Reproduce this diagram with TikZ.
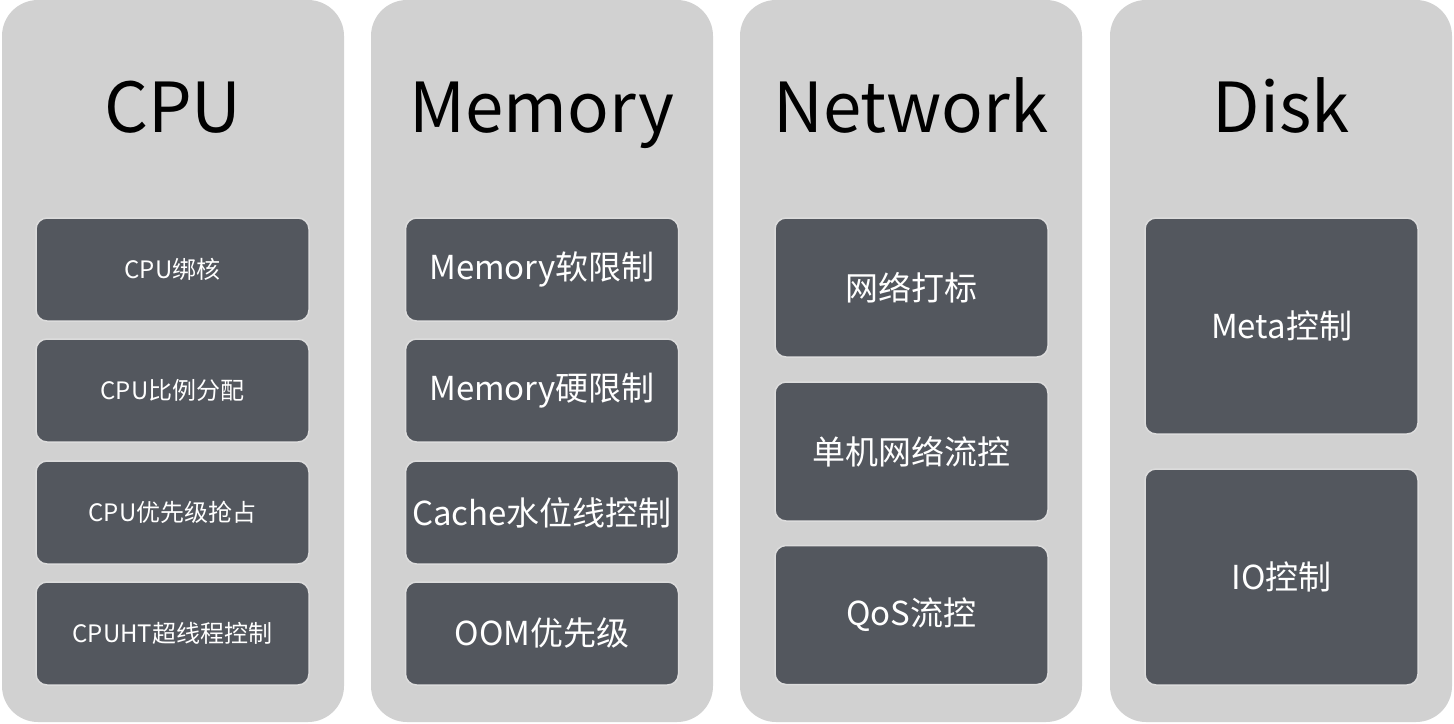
\documentclass[tikz,border=0pt]{standalone}
\usepackage{fontspec}
\setmainfont{Noto Sans CJK SC}
\usetikzlibrary{positioning}
\definecolor{colgray}{HTML}{D1D1D1}
\definecolor{boxgray}{HTML}{53575E}
\definecolor{boxline}{HTML}{DCDCDC}
\tikzset{
  column/.style={fill=colgray, draw=none, rounded corners=36pt, minimum width=342pt, minimum height=722pt, inner sep=0pt},
  heading/.style={anchor=base, text=black, font=\fontsize{69}{78}\selectfont},
  item/.style={fill=boxgray, draw=boxline, line width=1.5pt, rounded corners=11pt, text=white, minimum width=273pt, inner sep=0pt, align=center},
  smallitem/.style={item, minimum height=103pt, font=\fontsize{24}{28}\selectfont},
  bigitem/.style={item, font=\fontsize{33}{38}\selectfont}
}
\begin{document}
\begin{tikzpicture}[x=1pt, y=-1pt]
  \useasboundingbox (0,0) rectangle (1454,723);
  % four columns
  \node[column] (cpu) at (173,361) {};
  \node[column] (mem) at (542,361) {};
  \node[column] (net) at (911,361) {};
  \node[column] (disk) at (1281,361) {};
  % headings
  \node[heading] (cputitle) at (173,132) {CPU};
  \node[heading] (memtitle) at (542,132) {Memory};
  \node[heading] (nettitle) at (911,132) {Network};
  \node[heading] (disktitle) at (1281,132) {Disk};
  % CPU
  \node[smallitem] (cpua) at (172.5,269.5) {CPU绑核};
  \node[smallitem] (cpub) at (172.5,390.5) {CPU比例分配};
  \node[smallitem] (cpuc) at (172.5,512.5) {CPU优先级抢占};
  \node[smallitem] (cpud) at (172.5,633.5) {CPUHT超线程控制};
  % Memory
  \node[bigitem, minimum height=103pt] (mema) at (542,269.5) {Memory软限制};
  \node[bigitem, minimum height=103pt] (memb) at (542,390.5) {Memory硬限制};
  \node[bigitem, minimum height=103pt] (memc) at (542,512.5) {Cache水位线控制};
  \node[bigitem, minimum height=103pt] (memd) at (542,633.5) {OOM优先级};
  % Network
  \node[bigitem, minimum height=139pt] (neta) at (911.5,287.5) {网络打标};
  \node[bigitem, minimum height=139pt] (netb) at (911.5,451.5) {单机网络流控};
  \node[bigitem, minimum height=139pt] (netc) at (911.5,615) {QoS流控};
  % Disk
  \node[bigitem, minimum height=216pt] (diska) at (1281.5,326) {Meta控制};
  \node[bigitem, minimum height=216pt] (diskb) at (1281.5,577) {IO控制};
\end{tikzpicture}
\end{document}
